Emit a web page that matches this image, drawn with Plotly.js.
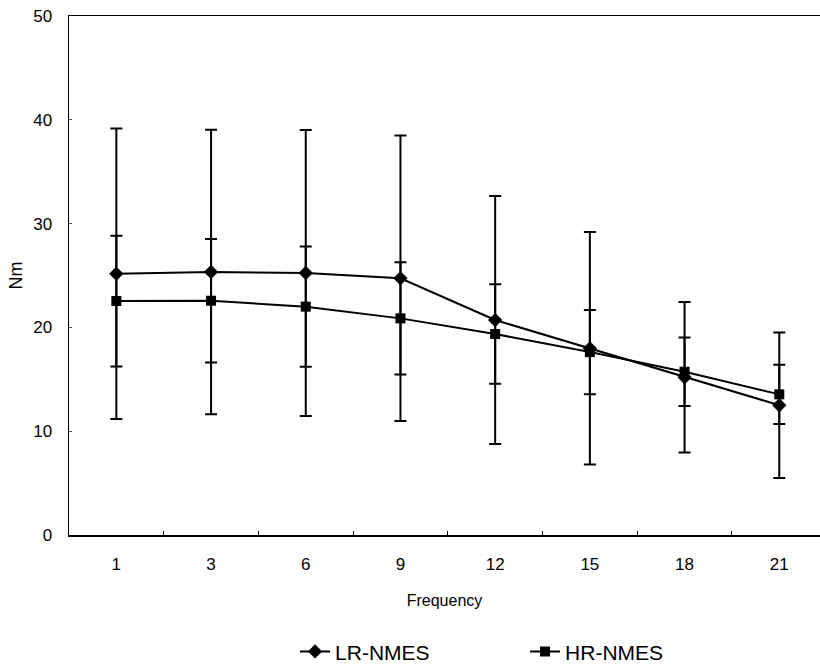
<!DOCTYPE html>
<html>
<head>
<meta charset="utf-8">
<script src="https://cdn.plot.ly/plotly-3.0.1.min.js"></script>
<style>html,body{margin:0;padding:0;background:#fff;}#chart{width:820px;height:664px;}</style>
</head>
<body>
<div id="chart"></div>
<script>
const categories = ['1','3','6','9','12','15','18','21'];
const lrMean = [25.17, 25.34, 25.24, 24.73, 20.71, 17.98, 15.19, 12.50];
const lrSD   = [14.0, 13.7, 13.77, 13.75, 11.95, 11.2, 7.25, 7.0];
const hrMean = [22.54, 22.57, 22.0, 20.87, 19.36, 17.62, 15.73, 13.55];
const hrSD   = [6.3, 5.95, 5.8, 5.4, 4.8, 4.05, 3.3, 2.85];
const seriesNames = ['LR-NMES', 'HR-NMES'];

const font = 'Liberation Sans, Arial, sans-serif';

const traces = [
  {
    x: categories, y: lrMean, name: seriesNames[0], type: 'scatter', mode: 'lines+markers',
    line: {color: '#000', width: 2},
    marker: {symbol: 'diamond', size: 11, color: '#000'},
    error_y: {type: 'data', array: lrSD, visible: true, color: '#000', thickness: 2, width: 6}
  },
  {
    x: categories, y: hrMean, name: seriesNames[1], type: 'scatter', mode: 'lines+markers',
    line: {color: '#000', width: 2},
    marker: {symbol: 'square', size: 10, color: '#000'},
    error_y: {type: 'data', array: hrSD, visible: true, color: '#000', thickness: 2, width: 6}
  }
];

const layout = {
  width: 820, height: 664,
  margin: {l: 69, r: 0, t: 16, b: 129, autoexpand: false},
  paper_bgcolor: '#fff', plot_bgcolor: '#fff',
  font: {family: font, color: '#000', size: 16},
  showlegend: true,
  legend: {
    orientation: 'h', x: 0.301, xanchor: 'left', y: -0.225, yanchor: 'middle',
    font: {size: 21, family: font}, entrywidth: 185, itemwidth: 30
  },
  xaxis: {
    type: 'category', range: [-0.5, 7.43], automargin: false,
    showline: true, linecolor: '#000', linewidth: 1.5, mirror: true,
    showgrid: false, zeroline: false,
    ticks: 'inside', tickson: 'boundaries', ticklen: 4, tickcolor: '#000', tickwidth: 1,
    tickfont: {size: 17}, ticklabelstandoff: 13,
    title: {text: 'Frequency', font: {size: 16}, standoff: 22}
  },
  yaxis: {
    range: [0, 50], dtick: 10, automargin: false,
    showline: true, linecolor: '#000', linewidth: 1.5,
    showgrid: false, zeroline: false,
    ticks: 'inside', ticklen: 3, tickcolor: '#555', tickwidth: 1,
    tickfont: {size: 17}, ticklabelstandoff: 12,
    title: {text: 'Nm', font: {size: 18}, standoff: 6}
  }
};

Plotly.newPlot('chart', traces, layout, {displayModeBar: false, staticPlot: true});
</script>
</body>
</html>
